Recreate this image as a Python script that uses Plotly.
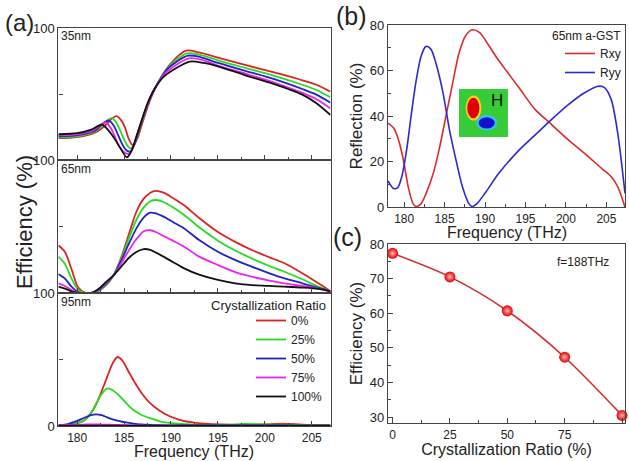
import plotly.graph_objects as go

W, H = 629, 461
FONT = "Liberation Sans, Arial, sans-serif"
TXT = "#222222"
AX = "#444444"


def px(x):
    return x / W


def py(y):
    return 1 - y / H


# ---------------- data ----------------
ratios = ["0%", "25%", "50%", "75%", "100%"]
colors = ["#e02222", "#22dd22", "#2222c8", "#ee22ee", "#111111"]

# (a) 35 nm
f35_0 = [178, 180, 182, 183.2, 183.7, 184.2, 184.7, 185.1, 185.5, 185.9, 186.4, 186.9, 187.5, 188.1, 188.9, 189.9, 191.6, 193.0, 195, 198, 201, 204, 205.5, 207]
e35_0 = [16.5, 17.3, 21.0, 27.5, 31.5, 33.3, 30.0, 24.5, 16.0, 11.4, 16.0, 27.0, 40.0, 51.0, 62.0, 72.5, 82.8, 81.5, 77.5, 71.8, 66.3, 60.4, 57.0, 51.8]
f35_1 = [178, 180, 182, 182.7, 183.2, 183.7, 184.2, 184.6, 185.0, 185.4, 185.75, 186.25, 186.75, 187.35, 188.0, 188.8, 189.8, 191.7, 193.1, 195, 198, 201, 204, 205.5, 207]
e35_1 = [17.2, 18.0, 22.0, 26.5, 30.0, 31.7, 28.0, 22.0, 15.5, 10.5, 8.8, 14.0, 25.5, 38.5, 50.0, 61.0, 71.0, 80.8, 79.6, 75.5, 69.6, 63.8, 57.0, 53.0, 47.5]
f35_2 = [178, 180, 182, 182.4, 182.9, 183.4, 183.9, 184.3, 184.7, 185.1, 185.6, 186.1, 186.6, 187.2, 187.9, 188.7, 189.7, 191.8, 193.2, 195, 198, 201, 204, 205.5, 207]
e35_2 = [18.0, 18.8, 22.8, 25.5, 28.5, 29.9, 26.0, 20.0, 13.5, 8.5, 6.3, 11.5, 23.0, 36.0, 48.5, 59.5, 69.5, 79.0, 77.8, 73.5, 67.4, 61.3, 53.8, 49.5, 43.4]
f35_3 = [178, 180, 181.7, 182.1, 182.6, 183.1, 183.6, 184.0, 184.4, 184.9, 185.45, 185.95, 186.45, 187.05, 187.7, 188.5, 189.5, 191.9, 193.3, 195, 198, 201, 204, 205.5, 207]
e35_3 = [18.7, 19.5, 22.5, 24.5, 27.2, 28.4, 24.0, 18.0, 11.5, 6.5, 4.5, 9.5, 20.5, 33.5, 46.0, 57.0, 66.5, 77.0, 75.8, 71.5, 65.3, 58.7, 50.8, 46.0, 39.1]
f35_4 = [178, 180, 181.5, 181.8, 182.3, 182.7, 183.2, 183.9, 184.6, 185.3, 185.8, 186.3, 186.9, 187.5, 188.3, 189.3, 192.0, 193.5, 195, 198, 201, 204, 205.5, 207]
e35_4 = [19.5, 20.3, 23.0, 24.0, 26.0, 26.7, 23.5, 17.0, 9.0, 2.0, 7.0, 17.5, 30.5, 43.0, 54.5, 63.5, 74.5, 73.5, 71.0, 64.0, 57.5, 49.5, 43.0, 34.1]

# (a) 65 nm
f65 = [178, 178.7, 179.4, 180.1, 180.8, 181.5, 182.2, 183.0, 183.9, 184.7, 185.5, 186.3, 187.1, 187.8, 188.4, 189.2, 190.2, 191.4, 193.0, 195.0, 197.0, 198.6, 200.5, 202.1, 204.0, 205.7, 207.0]
e65_0 = [36.0, 31.0, 18.0, 4.5, 0.5, 0.0, 1.5, 5.5, 13.7, 27.0, 44.0, 61.0, 71.0, 75.5, 76.8, 75.5, 71.5, 66.0, 56.5, 46.0, 38.0, 32.5, 27.0, 22.5, 15.0, 7.5, 1.5]
e65_1 = [27.5, 22.0, 11.0, 2.5, 0.3, 0.0, 1.6, 5.8, 13.7, 26.0, 41.0, 55.0, 64.5, 69.0, 70.0, 68.5, 64.5, 58.7, 49.5, 39.5, 31.5, 26.2, 20.5, 16.2, 10.5, 5.0, 1.5]
e65_2 = [14.5, 11.0, 5.0, 1.0, 0.1, 0.2, 2.0, 6.5, 13.7, 24.5, 37.0, 48.5, 57.0, 60.5, 60.0, 57.5, 53.5, 48.7, 40.0, 31.2, 24.5, 20.0, 15.0, 11.2, 7.5, 4.0, 1.5]
e65_3 = [7.5, 5.5, 2.5, 0.5, 0.0, 0.3, 2.3, 7.3, 13.7, 22.5, 32.0, 40.5, 46.5, 47.3, 46.0, 43.0, 39.5, 35.0, 27.5, 21.2, 15.5, 12.5, 9.5, 7.5, 5.5, 3.5, 1.5]
e65_4 = [5.0, 3.5, 1.5, 0.3, 0.0, 0.4, 2.8, 8.0, 13.7, 20.0, 26.5, 31.0, 33.2, 32.5, 30.5, 27.5, 23.5, 18.7, 14.0, 10.0, 7.3, 6.2, 5.5, 5.0, 4.3, 3.3, 1.5]

# (a) 95 nm
f95 = [178, 179, 180, 180.7, 181.4, 182.0, 182.6, 183.2, 183.8, 184.3, 184.8, 185.4, 186.0, 186.8, 187.8, 188.8, 189.8, 191.0, 192.5, 194.0, 196.0, 198.0, 200.0, 202.0, 204.0, 207.0]
e95_0 = [0.3, 0.8, 2.2, 4.0, 9.0, 16.0, 26.0, 37.0, 47.5, 52.0, 49.5, 42.0, 34.5, 25.5, 17.0, 11.5, 7.5, 4.5, 2.5, 1.5, 1.0, 0.8, 1.2, 1.7, 1.0, 0.5]
e95_1 = [0.3, 0.8, 2.2, 4.0, 9.0, 16.5, 24.0, 28.3, 27.0, 24.0, 20.5, 16.0, 12.0, 8.5, 5.8, 3.5, 2.3, 1.5, 1.0, 0.8, 1.0, 1.5, 1.2, 1.0, 0.7, 0.4]
e95_2 = [0.5, 1.5, 3.8, 6.0, 8.0, 8.8, 8.2, 6.5, 5.0, 4.0, 3.2, 2.5, 1.8, 1.2, 0.8, 0.6, 0.5, 0.5, 0.4, 0.4, 0.4, 0.4, 0.4, 0.4, 0.3, 0.3]
e95_3 = [0.6, 0.8, 1.0, 1.1, 1.2, 1.2, 1.1, 1.0, 0.9, 0.8, 0.7, 0.6, 0.5, 0.4, 0.3, 0.3, 0.3, 0.3, 0.3, 0.3, 0.3, 0.3, 0.3, 0.3, 0.3, 0.3]
e95_4 = [0.2, 0.2, 0.2, 0.2, 0.2, 0.2, 0.2, 0.2, 0.2, 0.2, 0.2, 0.2, 0.2, 0.2, 0.2, 0.2, 0.2, 0.2, 0.2, 0.2, 0.2, 0.2, 0.2, 0.2, 0.2, 0.2]

# (b) 65nm a-GST reflection
f_rxy = [178, 178.7, 179.3, 179.9, 180.5, 181.1, 181.5, 182.1, 182.7, 183.6, 184.4, 185.2, 186.0, 186.8, 187.6, 188.4, 189.3, 190.1, 191.3, 192.5, 194.2, 196.2, 197.8, 200.3, 202.3, 204.4, 205.6, 206.4, 207.3]
r_xy = [36.9, 34.7, 29.5, 20.7, 8.9, 1.5, 0.2, 1.5, 5.9, 14.8, 26.6, 40.6, 54.6, 67.9, 75.3, 77.9, 76.8, 73.0, 66.4, 60.5, 52.4, 42.8, 37.6, 29.5, 23.6, 17.0, 13.3, 8.9, 0.0]
f_ryy = [178, 178.7, 179.2, 179.7, 180.3, 180.9, 181.5, 182.1, 182.7, 183.3, 183.9, 184.8, 185.6, 186.4, 187.2, 188.0, 188.4, 189.0, 190.1, 191.7, 194.2, 196.2, 198.2, 200.3, 202.3, 204.0, 204.8, 205.6, 206.4, 207.3]
r_yy = [11.5, 8.1, 8.5, 13.3, 25.0, 41.3, 56.0, 66.4, 70.6, 69.4, 63.5, 50.2, 33.9, 20.7, 8.9, 1.5, 0.2, 1.5, 6.6, 14.8, 25.0, 31.7, 38.4, 45.0, 50.2, 53.1, 52.4, 47.2, 32.5, 6.0]

# (c) efficiency at f = 188 THz
cryst_ratio = [0, 25, 50, 75, 100]
eff_188 = [77.3, 70.5, 60.7, 47.3, 30.5]

f35 = [f35_0, f35_1, f35_2, f35_3, f35_4]
e35 = [e35_0, e35_1, e35_2, e35_3, e35_4]
e65 = [e65_0, e65_1, e65_2, e65_3, e65_4]
e95 = [e95_0, e95_1, e95_2, e95_3, e95_4]

# ---------------- figure ----------------
fig = go.Figure()

for i in range(5):
    ln = dict(color=colors[i], width=1.8, shape="spline", smoothing=0.8)
    fig.add_trace(go.Scatter(x=f35[i], y=e35[i], mode="lines", line=ln, name=ratios[i],
                             xaxis="x", yaxis="y", showlegend=False, hoverinfo="skip"))
    fig.add_trace(go.Scatter(x=f65, y=e65[i], mode="lines", line=ln, name=ratios[i],
                             xaxis="x2", yaxis="y2", showlegend=False, hoverinfo="skip"))
    fig.add_trace(go.Scatter(x=f95, y=e95[i], mode="lines", line=ln, name=ratios[i],
                             xaxis="x3", yaxis="y3", showlegend=True, legend="legend"))

fig.add_trace(go.Scatter(x=f_rxy, y=r_xy, mode="lines", name="Rxy",
                         line=dict(color="#dd2a2a", width=1.6, shape="spline", smoothing=0.8),
                         xaxis="x4", yaxis="y4", legend="legend2"))
fig.add_trace(go.Scatter(x=f_ryy, y=r_yy, mode="lines", name="Ryy",
                         line=dict(color="#2a2ad0", width=1.6, shape="spline", smoothing=0.8),
                         xaxis="x4", yaxis="y4", legend="legend2"))

fig.add_trace(go.Scatter(x=cryst_ratio, y=eff_188, mode="lines+markers", name="f=188THz",
                         line=dict(color="#d42a2a", width=1.6, shape="spline", smoothing=0.8),
                         marker=dict(size=11, color="#e00000", line=dict(width=0),
                                     gradient=dict(type="radial", color="#ffb4b4")),
                         xaxis="x5", yaxis="y5", showlegend=False, cliponaxis=False))

tickfont = dict(family=FONT, size=13, color=TXT)
xtickfont = dict(family=FONT, size=12, color=TXT)
axbase = dict(showline=True, linecolor=AX, linewidth=1.2, mirror=True, ticks="inside",
              ticklen=5, tickwidth=1, tickcolor=AX, showgrid=False, zeroline=False,
              tickfont=tickfont, automargin=False)

a_dom_x = [px(58.4), px(330.5)]
xa = dict(axbase, range=[178, 207], tick0=180, dtick=5, tickfont=xtickfont,
          minor=dict(ticks="inside", ticklen=3, dtick=2.5, tick0=180, tickcolor=AX, showgrid=False))

ya_top = dict(axbase, range=[0, 100], tickmode="array", tickvals=[0, 50, 100],
              ticktext=["", "", "100"], ticklen=4)
ya_bot = dict(axbase, range=[0, 100], tickmode="array", tickvals=[0, 50, 100],
              ticktext=["0", "", "100"], ticklen=4)

fig.update_layout(
    width=W, height=H, autosize=False,
    margin=dict(l=0, r=0, t=0, b=0, pad=0),
    paper_bgcolor="white", plot_bgcolor="white",
    font=dict(family=FONT, color=TXT),
    xaxis=dict(xa, domain=a_dom_x, anchor="y", showticklabels=False),
    xaxis2=dict(xa, domain=a_dom_x, anchor="y2", showticklabels=False),
    xaxis3=dict(xa, domain=a_dom_x, anchor="y3"),
    yaxis=dict(ya_top, domain=[py(160), py(28)], anchor="x"),
    yaxis2=dict(ya_top, domain=[py(293.3), py(160)], anchor="x2"),
    yaxis3=dict(ya_bot, domain=[py(426), py(293.3)], anchor="x3"),
    xaxis4=dict(axbase, domain=[px(388), px(625)], anchor="y4", range=[178, 207.3], tick0=180, dtick=5,
                tickfont=xtickfont,
                minor=dict(ticks="inside", ticklen=3, dtick=2.5, tick0=180, tickcolor=AX, showgrid=False)),
    yaxis4=dict(axbase, domain=[py(207), py(25)], anchor="x4", range=[0, 80], dtick=20,
                minor=dict(ticks="inside", ticklen=3, dtick=10, tickcolor=AX, showgrid=False),
                title=dict(text="Reflection (%)", font=dict(family=FONT, size=17, color=TXT), standoff=2)),
    xaxis5=dict(axbase, domain=[px(388), px(625)], anchor="y5", range=[-2, 101.3], tick0=0, dtick=25,
                tickfont=xtickfont,
                minor=dict(ticks="inside", ticklen=3, dtick=12.5, tick0=0, tickcolor=AX, showgrid=False),
                title=dict(text="Crystallization Ratio (%)", font=dict(family=FONT, size=16, color=TXT), standoff=2)),
    yaxis5=dict(axbase, domain=[py(423), py(244)], anchor="x5", range=[28.3, 80], dtick=10,
                minor=dict(ticks="inside", ticklen=3, dtick=5, tickcolor=AX, showgrid=False),
                title=dict(text="Efficiency (%)", font=dict(family=FONT, size=17, color=TXT), standoff=2)),
    legend=dict(x=px(251), y=py(306), xanchor="left", yanchor="top", bgcolor="rgba(0,0,0,0)",
                font=dict(family=FONT, size=12, color=TXT), traceorder="normal", itemwidth=30),
    legend2=dict(x=px(560), y=py(39), xanchor="left", yanchor="top", bgcolor="rgba(0,0,0,0)",
                 font=dict(family=FONT, size=12, color=TXT), traceorder="normal", itemwidth=30),
)

ann = [
    dict(text="(a)", x=px(19), y=py(22), font=dict(size=24)),
    dict(text="(b)", x=px(351), y=py(16), font=dict(size=25)),
    dict(text="(c)", x=px(348), y=py(237), font=dict(size=25)),
    dict(text="Efficiency (%)", x=px(24), y=py(222), textangle=-90, font=dict(size=22)),
    dict(text="Frequency (THz)", x=px(194), y=py(451.5), font=dict(size=16)),
    dict(text="Frequency (THz)", x=px(507), y=py(232), font=dict(size=16)),
    dict(text="35nm", x=px(59), y=py(36), xanchor="left", font=dict(size=12)),
    dict(text="65nm", x=px(59), y=py(169), xanchor="left", font=dict(size=12)),
    dict(text="95nm", x=px(59), y=py(302), xanchor="left", font=dict(size=12)),
    dict(text="Crystallization Ratio", x=px(328), y=py(305), xanchor="right", font=dict(size=13)),
    dict(text="65nm a-GST", x=px(623), y=py(36), xanchor="right", font=dict(size=12)),
    dict(text="f=188THz", x=px(583), y=py(262), font=dict(size=12)),
]
for a in ann:
    a.setdefault("xanchor", "center")
    a.update(xref="paper", yref="paper", showarrow=False, yanchor="middle")
    a["font"] = dict(family=FONT, color=TXT, **a["font"])
    fig.add_annotation(**a)

fig.add_annotation(text="H", x=191.45, y=46.7, xref="x4", yref="y4", showarrow=False,
                   font=dict(family=FONT, size=17, color="#111111"))

# field-map inset in panel (b)
inset = [
    ("rect", 186.78, 192.83, 30.8, 51.9, "#37cc37"),
    ("circle", 187.6, 189.55, 38.0, 49.0, "#f2d21a"),
    ("circle", 187.8, 189.3, 39.0, 48.0, "#e00000"),
    ("circle", 188.9, 191.5, 33.6, 40.4, "#34c4e4"),
    ("circle", 189.2, 191.2, 34.5, 39.4, "#1010d0"),
]
for kind, x0, x1, y0, y1, c in inset:
    fig.add_shape(type=kind, xref="x4", yref="y4", x0=x0, x1=x1, y0=y0, y1=y1,
                  fillcolor=c, line=dict(width=0), layer="above")

fig.write_html("out.html", config={"displayModeBar": False},
               post_script="document.body.style.margin='0';document.body.style.overflow='hidden';")
